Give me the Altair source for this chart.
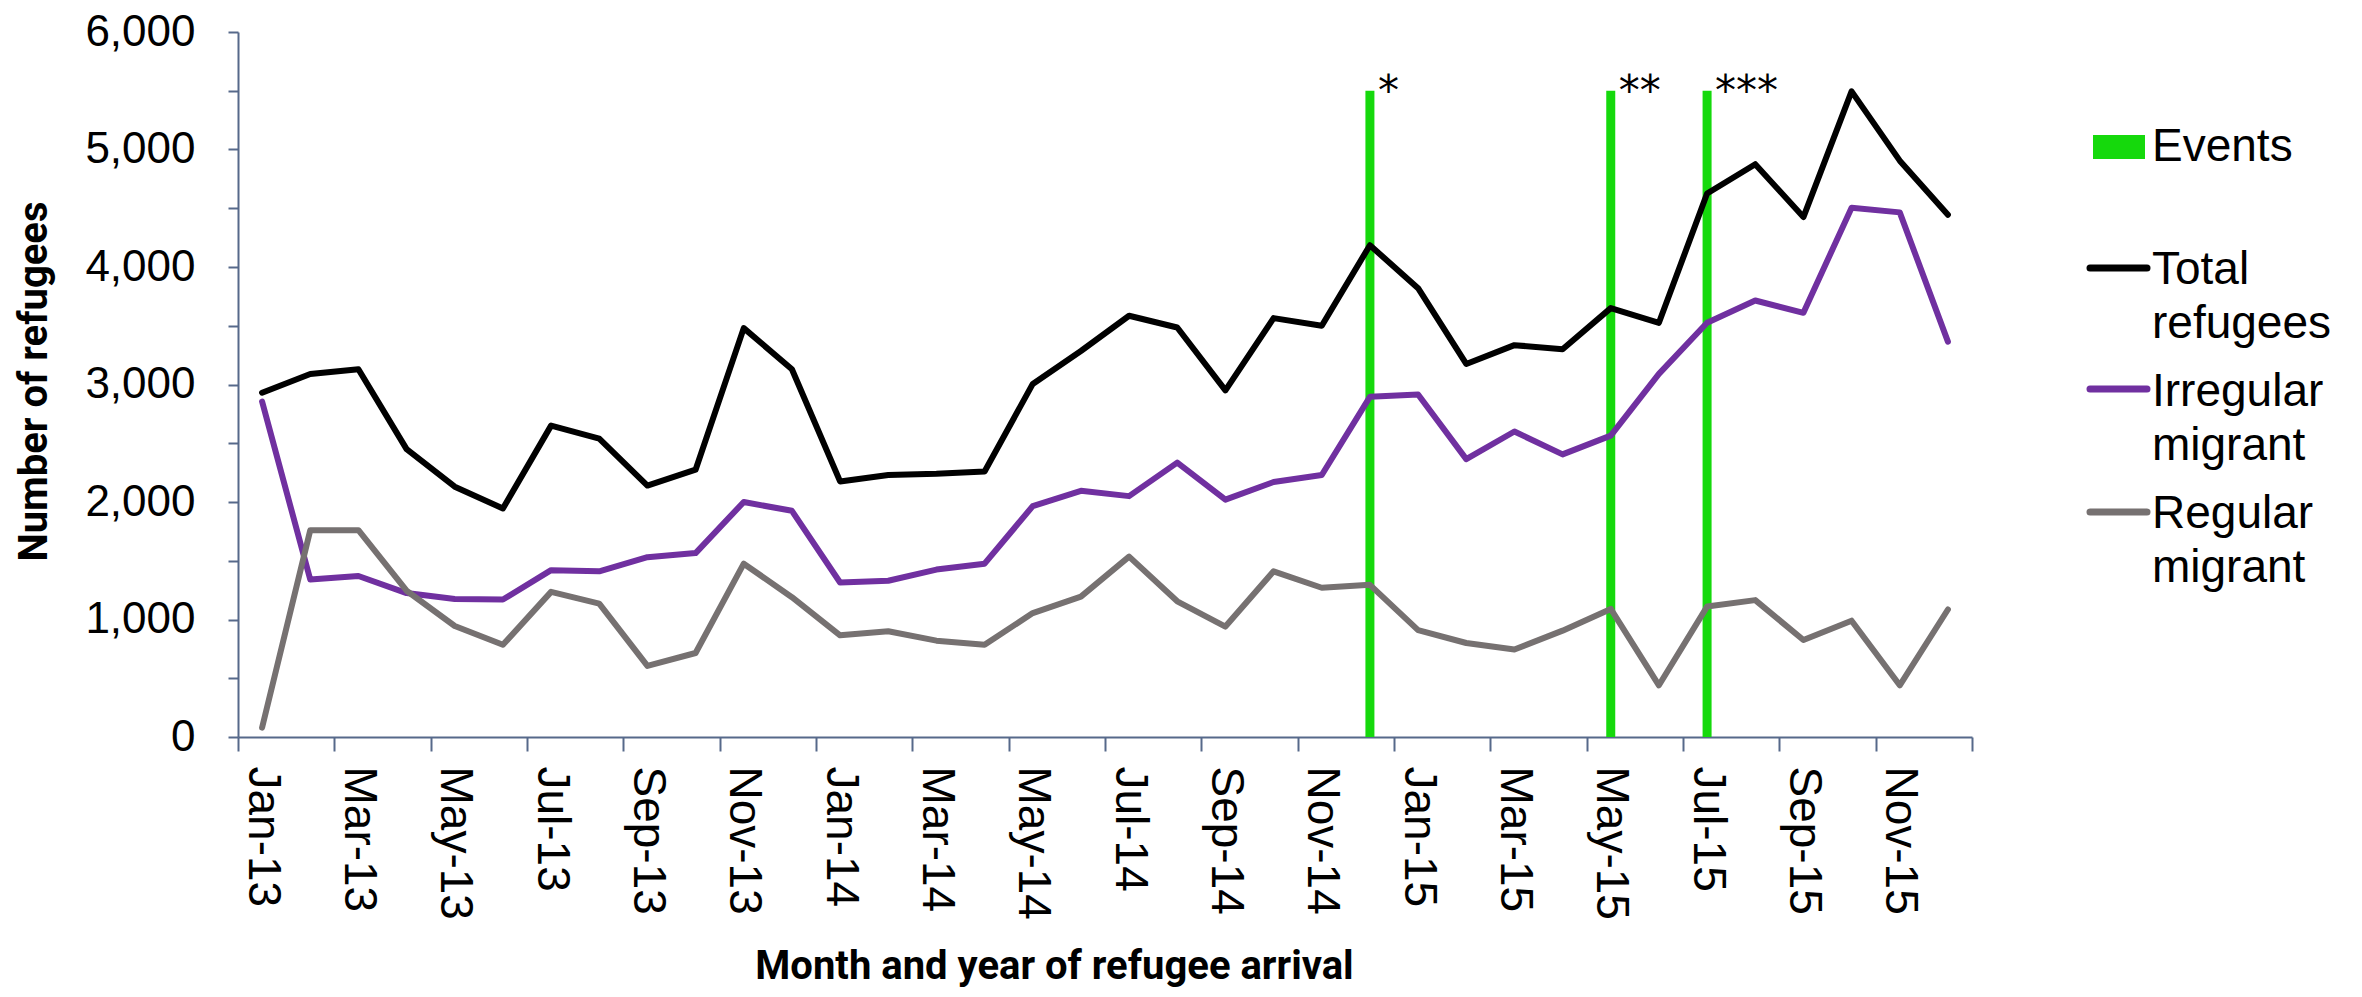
import altair as alt
import pandas as pd

# ---------------- data ----------------
months = [
    "Jan-13", "Feb-13", "Mar-13", "Apr-13", "May-13", "Jun-13", "Jul-13", "Aug-13", "Sep-13", "Oct-13", "Nov-13", "Dec-13",
    "Jan-14", "Feb-14", "Mar-14", "Apr-14", "May-14", "Jun-14", "Jul-14", "Aug-14", "Sep-14", "Oct-14", "Nov-14", "Dec-14",
    "Jan-15", "Feb-15", "Mar-15", "Apr-15", "May-15", "Jun-15", "Jul-15", "Aug-15", "Sep-15", "Oct-15", "Nov-15", "Dec-15",
]
total_refugees = [2930, 3090, 3130, 2450, 2130, 1945, 2650, 2540, 2140, 2275, 3480, 3130,
                  2175, 2230, 2240, 2260, 3005, 3285, 3585, 3485, 2950, 3565, 3500, 4185,
                  3820, 3175, 3335, 3300, 3650, 3525, 4625, 4875, 4425, 5495, 4905, 4445]
irregular_migrant = [2855, 1340, 1370, 1225, 1175, 1170, 1420, 1410, 1530, 1565, 2000, 1925,
                     1315, 1330, 1425, 1475, 1965, 2095, 2050, 2335, 2020, 2170, 2230, 2895,
                     2915, 2365, 2600, 2405, 2565, 3090, 3525, 3715, 3610, 4505, 4465, 3365]
regular_migrant = [80, 1760, 1760, 1245, 945, 785, 1235, 1135, 605, 715, 1475, 1190,
                   865, 900, 820, 785, 1055, 1195, 1535, 1155, 940, 1410, 1270, 1295,
                   910, 800, 745, 905, 1090, 440, 1110, 1165, 825, 990, 440, 1085]
series_names = ["Total refugees", "Irregular migrant", "Regular migrant"]
series_colors = ["#000000", "#7030A0", "#767171"]
event_name = "Events"
event_color = "#15D90C"
event_months = ["Dec-14", "May-15", "Jul-15"]
event_marks = ["*", "**", "***"]
event_top = 5500
x_title = "Month and year of refugee arrival"
y_title = "Number of refugees"

# ---------------- tables ----------------
rows = []
for name, vals in zip(series_names, [total_refugees, irregular_migrant, regular_migrant]):
    for i, (m, v) in enumerate(zip(months, vals)):
        rows.append({"idx": i, "month": m, "series": name, "value": v})
df = pd.DataFrame(rows)

events = pd.DataFrame({
    "idx": [months.index(m) for m in event_months],
    "month": event_months,
    "mark": event_marks,
    "base": [0] * len(event_months),
    "top": [event_top] * len(event_months),
})

AXIS_COLOR = "#56698A"
LABEL_FONT = "Liberation Sans, Arial, sans-serif"
TITLE_FONT = "Roboto, sans-serif"
TOP_SHIFT = 5

months_js = "[" + ",".join(f"'{m}'" for m in months) + "]"
x_tick_values = [i - 0.5 for i in range(0, len(months) + 1, 2)]

x_enc = alt.X(
    "idx:Q",
    scale=alt.Scale(domain=[-0.5, len(months) - 0.5], nice=False, zero=False),
    axis=alt.Axis(
        values=x_tick_values,
        labelExpr=f"{months_js}[datum.value + 0.5] || ''",
        labelOffset=24,
        labelAngle=90,
        labelAlign="left",
        labelBaseline="middle",
        labelFlush=False,
        labelOverlap=False,
        labelBound=False,
        labelPadding=15,
        labelFont=LABEL_FONT,
        labelFontSize=46,
        labelColor="#000000",
        tickSize=14,
        tickWidth=2,
        tickColor=AXIS_COLOR,
        domainColor=AXIS_COLOR,
        domainWidth=2,
        grid=False,
        title=x_title,
        titleFont=TITLE_FONT,
        titleFontSize=40,
        titleFontWeight="bold",
        titleColor="#000000",
        titleX=816,
        titleY=241,
        titleAlign="center",
        titleBaseline="alphabetic",
    ),
)

y_enc = alt.Y(
    "value:Q",
    scale=alt.Scale(domain=[0, 6000], nice=False),
    axis=alt.Axis(
        values=list(range(0, 6001, 500)),
        labelExpr="datum.value % 1000 == 0 ? format(datum.value, ',') : ''",
        labelPadding=33,
        labelFont=LABEL_FONT,
        labelFontSize=44,
        labelColor="#000000",
        tickSize=10,
        tickWidth=2,
        tickColor=AXIS_COLOR,
        domainColor=AXIS_COLOR,
        domainWidth=2,
        grid=False,
        title=y_title,
        titleFont=TITLE_FONT,
        titleFontSize=40,
        titleFontWeight="bold",
        titleColor="#000000",
        titleAngle=270,
        titleX=-192,
        titleY=354 - TOP_SHIFT,
        titleAlign="center",
        titleBaseline="alphabetic",
    ),
)

rules = alt.Chart(events).mark_rule(strokeWidth=9, color=event_color).encode(
    x=alt.X("idx:Q"),
    y=alt.Y("base:Q"),
    y2=alt.Y2("top:Q"),
)

stars = alt.Chart(events).mark_text(
    align="left", baseline="alphabetic", dx=8, dy=14,
    font="DejaVu Sans", fontSize=42, color="#000000",
).encode(
    x=alt.X("idx:Q"),
    y=alt.Y("top:Q"),
    text=alt.Text("mark:N"),
)

lines = alt.Chart(df).mark_line(strokeWidth=6, strokeCap="round", strokeJoin="round").encode(
    x=x_enc,
    y=y_enc,
    color=alt.Color(
        "series:N",
        scale=alt.Scale(domain=series_names, range=series_colors),
        legend=None,
    ),
    order=alt.Order("idx:Q"),
)

# ---------------- legend (drawn beside the plot) ----------------
LEG_SYM_X0, LEG_SYM_X1, LEG_TXT_X = 1852, 1909, 1914
legend_layers = []
legend_layers.append(
    alt.Chart(alt.Data(values=[{"label": event_name}])).mark_rect(color=event_color).encode(
        x=alt.value(LEG_SYM_X0 + 3), x2=alt.value(LEG_SYM_X1 - 2),
        y=alt.value(108 - TOP_SHIFT), y2=alt.value(132 - TOP_SHIFT),
    )
)
legend_layers.append(
    alt.Chart(alt.Data(values=[{"label": event_name}])).mark_text(
        align="left", baseline="alphabetic", font=LABEL_FONT, fontSize=46, color="#000000",
    ).encode(x=alt.value(LEG_TXT_X), y=alt.value(134 - TOP_SHIFT), text=alt.Text("label:N"))
)
legend_rows = [(241, 257), (362, 379), (485, 501)]
for name, color, (sym_y, base_y) in zip(series_names, series_colors, legend_rows):
    legend_layers.append(
        alt.Chart(alt.Data(values=[{"label": name}])).mark_rule(
            color=color, strokeWidth=7, strokeCap="round",
        ).encode(x=alt.value(LEG_SYM_X0), x2=alt.value(LEG_SYM_X1), y=alt.value(sym_y - TOP_SHIFT))
    )
    legend_layers.append(
        alt.Chart(alt.Data(values=[{"label": name}])).mark_text(
            align="left", baseline="alphabetic", font=LABEL_FONT, fontSize=46,
            lineBreak=" ", lineHeight=54, color="#000000",
        ).encode(x=alt.value(LEG_TXT_X), y=alt.value(base_y - TOP_SHIFT), text=alt.Text("label:N"))
    )

chart = alt.layer(rules, lines, stars, *legend_layers).properties(
    width=1734,
    height=710 - TOP_SHIFT,
    padding={"left": 230, "top": 19 + TOP_SHIFT, "right": 380, "bottom": 250},
    autosize=alt.AutoSizeParams(type="none"),
    background="#ffffff",
).configure_view(stroke=None)

chart.save("out.html", embed_options={"renderer": "svg", "actions": False})
